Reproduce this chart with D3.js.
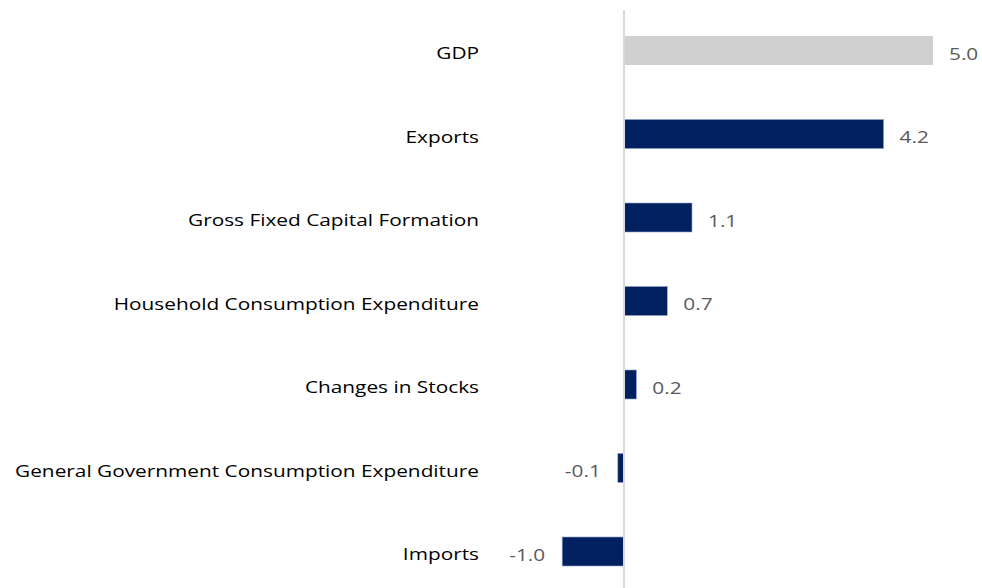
<!DOCTYPE html>
<html>
<head>
<meta charset="utf-8">
<script src="https://cdn.jsdelivr.net/npm/d3@7"></script>
<style>
  html, body { margin: 0; padding: 0; background: #fff; }
  svg { display: block; font-family: "Open Sans", sans-serif; }
</style>
</head>
<body>
<div id="chart"></div>
<script>
const categories = [
  'GDP',
  'Exports',
  'Gross Fixed Capital Formation',
  'Household Consumption Expenditure',
  'Changes in Stocks',
  'General Government Consumption Expenditure',
  'Imports'
];
const values = [5.0, 4.2, 1.1, 0.7, 0.2, -0.1, -1.0];
const highlight = ['GDP'];

const width = 982;
const height = 588;
const fontSize = 17;

const x = d3.scaleLinear()
  .domain([0, 5])
  .range([624, 933]);

const y = d3.scaleBand()
  .domain(categories)
  .range([8.75, 593.25])
  .paddingInner(0.653)
  .paddingOuter(0.653 / 2);

const fmt = d3.formatLocale({ decimal: '.', thousands: ',', grouping: [3], currency: ['', ''], minus: '-' }).format('.1f');

const svg = d3.select('#chart').append('svg')
  .attr('width', width)
  .attr('height', height);

const data = categories.map((c, i) => ({ label: c, value: values[i] }));

svg.append('g')
  .selectAll('rect')
  .data(data)
  .enter().append('rect')
    .attr('x', d => x(Math.min(0, d.value)))
    .attr('y', d => y(d.label))
    .attr('width', d => Math.abs(x(d.value) - x(0)))
    .attr('height', y.bandwidth())
    .attr('fill', d => highlight.includes(d.label) ? '#d0d0d0' : '#002060')
    .attr('stroke', d => highlight.includes(d.label) ? 'none' : '#8da0c4')
    .attr('stroke-width', 0.6);

// zero line
svg.append('line')
  .attr('x1', x(0)).attr('x2', x(0))
  .attr('y1', 10).attr('y2', height)
  .attr('stroke', '#d9d9d9')
  .attr('stroke-width', 2);

// the source text is drawn a bit wider than the fonts we have, stretch to fit
const probe = svg.append('text')
  .style('font-size', fontSize + 'px')
  .text(categories[5]);
const sx = 464 / probe.node().getComputedTextLength();
probe.remove();

// category labels
svg.append('g')
  .selectAll('text')
  .data(data)
  .enter().append('text')
    .attr('transform', d => `translate(479,${y(d.label) + y.bandwidth() / 2}) scale(${sx},1)`)
    .attr('dy', '0.5em')
    .attr('text-anchor', 'end')
    .attr('fill', '#000')
    .style('font-size', fontSize + 'px')
    .text(d => d.label);

// value labels
svg.append('g')
  .selectAll('text')
  .data(data)
  .enter().append('text')
    .attr('transform', d => {
      const tx = d.value >= 0 ? x(d.value) + 16 : x(d.value) - 17;
      return `translate(${tx},${y(d.label) + y.bandwidth() / 2}) scale(${sx},1)`;
    })
    .attr('dy', '0.55em')
    .attr('text-anchor', d => d.value >= 0 ? 'start' : 'end')
    .attr('fill', '#595959')
    .style('font-size', fontSize + 'px')
    .text(d => fmt(d.value));
</script>
</body>
</html>
